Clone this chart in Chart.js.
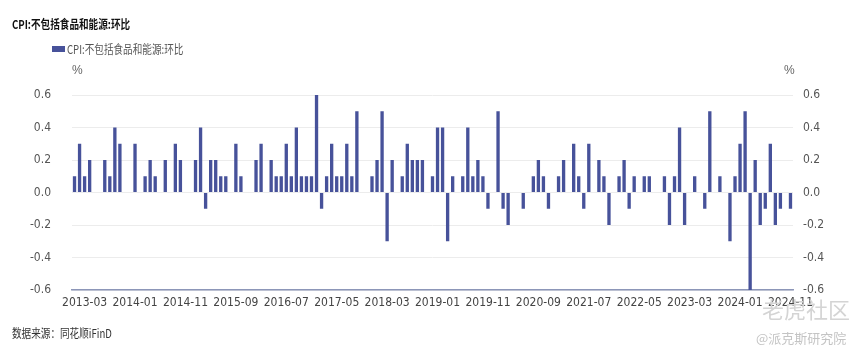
<!DOCTYPE html>
<html><head><meta charset="utf-8">
<script src="https://cdn.jsdelivr.net/npm/chart.js@4.4.0/dist/chart.umd.min.js"></script>
<style>
html,body{margin:0;padding:0;background:#fff;width:865px;height:359px;overflow:hidden;}
#wrap{position:relative;width:865px;height:359px;}
canvas{position:absolute;left:0;top:0;}
.t{position:absolute;white-space:nowrap;transform-origin:0 50%;font-family:"Noto Sans CJK SC",sans-serif;line-height:1;}
</style></head><body>
<div id="wrap">
<canvas id="c" width="865" height="359"></canvas>
<div class="t" style="left:12px;top:18px;font-size:12px;font-weight:bold;color:#111;transform:scaleX(0.8)">CPI:不包括食品和能源:环比</div>
<div style="position:absolute;left:52px;top:46px;width:13px;height:6px;background:#47529a"></div>
<div class="t" style="left:67px;top:43px;font-size:12px;color:#555;transform:scaleX(0.8)">CPI:不包括食品和能源:环比</div>
<div class="t" style="left:72px;top:64px;font-size:12px;color:#666;font-family:'Liberation Sans Narrow',sans-serif">%</div>
<div class="t" style="left:784px;top:64px;font-size:12px;color:#666;font-family:'Liberation Sans Narrow',sans-serif">%</div>
<div class="t" style="left:12px;top:327px;font-size:12px;color:#333;transform:scaleX(0.8)">数据来源：同花顺iFinD</div>
<div class="t" style="left:762px;top:297px;font-size:22px;color:#d4d4d4">老虎社区</div>
<div class="t" style="left:756px;top:331px;font-size:13px;color:#c4c4c4">@派克斯研究院</div>
</div>
<script>
const seriesName = 'CPI:不包括食品和能源:环比';
const startYear = 2013, startMonth = 1, monthCount = 143;
const months = [];
for (let k = 0; k < monthCount; k++) {
  const y = startYear + Math.floor((startMonth - 1 + k) / 12);
  const m = (startMonth - 1 + k) % 12 + 1;
  months.push(y + '-' + (m < 10 ? '0' + m : m));
}
const tickLabels = ['2013-03','2014-01','2014-11','2015-09','2016-07','2017-05','2018-03','2019-01','2019-11','2020-09','2021-07','2022-05','2023-03','2024-01','2024-11'];
const yTicks = [-0.6,-0.4,-0.2,0,0.2,0.4,0.6];
const values = [
 0.1,0.3,0.1,0.2,0,0,0.2,0.1,0.4,0.3,0,0,
 0.3,0,0.1,0.2,0.1,0,0.2,0,0.3,0.2,0,0,
 0.2,0.4,-0.1,0.2,0.2,0.1,0.1,0,0.3,0.1,0,0,
 0.2,0.3,0,0.2,0.1,0.1,0.3,0.1,0.4,0.1,0.1,0.1,
 0.6,-0.1,0.1,0.3,0.1,0.1,0.3,0.1,0.5,0,0,0.1,
 0.2,0.5,-0.3,0.2,0,0.1,0.3,0.2,0.2,0.2,0,0.1,
 0.4,0.4,-0.3,0.1,0,0.1,0.4,0.1,0.2,0.1,-0.1,0,
 0.5,-0.1,-0.2,0,0,-0.1,0,0.1,0.2,0.1,-0.1,0,
 0.1,0.2,0,0.3,0.1,-0.1,0.3,0,0.2,0.1,-0.2,0,
 0.1,0.2,-0.1,0.1,0,0.1,0.1,0,0,0.1,-0.2,0.1,
 0.4,-0.2,0,0.1,0,-0.1,0.5,0,0.1,0,-0.3,0.1,
 0.3,0.5,-0.6,0.2,-0.2,-0.1,0.3,-0.2,-0.1,0,-0.1
];
const tickFont = {family:"'Liberation Sans Narrow','DejaVu Sans Condensed',sans-serif", size:12};
const fmt = v => Math.abs(v) < 1e-9 ? '0.0' : Number(v).toFixed(1);
new Chart(document.getElementById('c'), {
  type:'bar',
  data:{labels:months, datasets:[{label:seriesName, data:values, backgroundColor:'#47529a', borderWidth:0, barPercentage:0.66, categoryPercentage:1}]},
  options:{
    responsive:false, animation:false,
    layout:{padding:{top:95,bottom:45,left:0,right:0}},
    plugins:{legend:{display:false}, tooltip:{enabled:false}},
    scales:{
      x:{grid:{display:false, drawTicks:false}, border:{display:true,color:'#8c96b8',width:1.5},
         ticks:{autoSkip:false,maxRotation:0,minRotation:0,padding:6,color:'#444',font:tickFont,
           callback:(v,i)=> tickLabels.includes(months[i]) ? months[i] : ''},
         afterFit:s=>{s.height=24;}},
      y:{position:'left',min:-0.6,max:0.6,
         afterBuildTicks:s=>{s.ticks = yTicks.map(v=>({value:v}));},
         ticks:{padding:21,color:'#555',font:tickFont,callback:fmt},
         grid:{color:'#ececec',drawTicks:false}, border:{display:false},
         afterFit:s=>{s.width=72;}},
      y2:{position:'right',min:-0.6,max:0.6,
         afterBuildTicks:s=>{s.ticks = yTicks.map(v=>({value:v}));},
         ticks:{padding:10,color:'#555',font:tickFont,callback:fmt},
         grid:{display:false,drawTicks:false}, border:{display:false},
         afterFit:s=>{s.width=72;}}
    }
  }
});
</script>
</body></html>
